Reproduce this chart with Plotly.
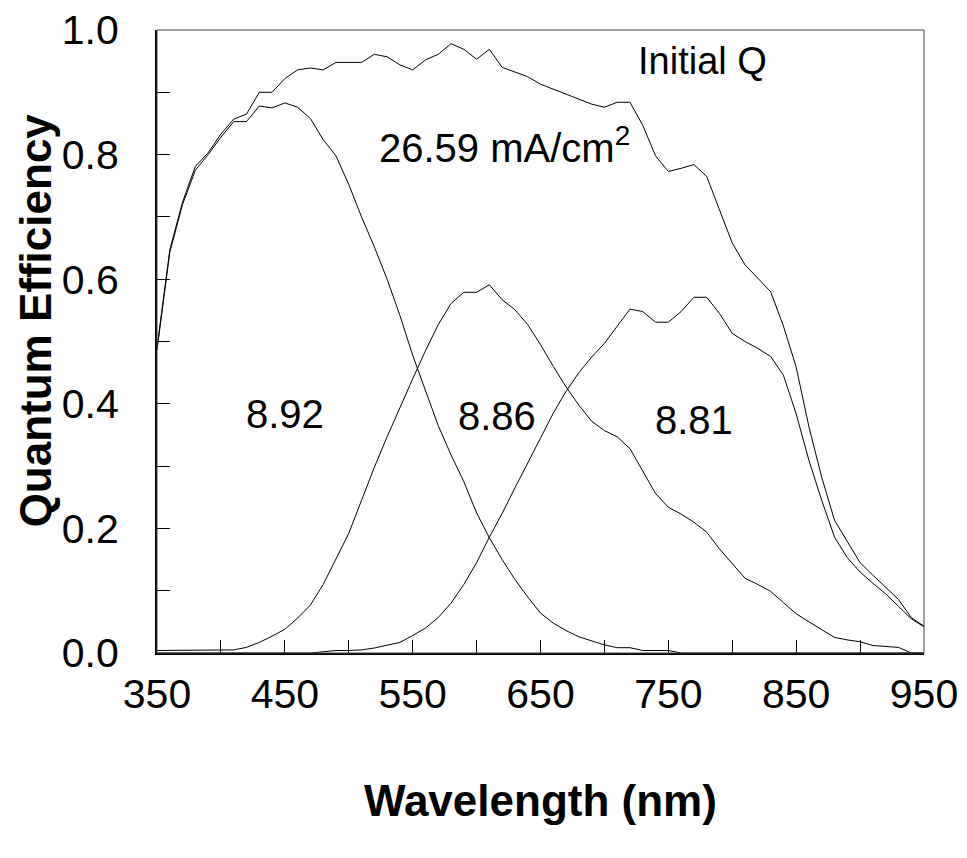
import plotly.graph_objects as go

# Wavelength grid (nm), 10 nm steps
wavelength = list(range(350, 960, 10))

# Total quantum efficiency (sum of the three subcells)
qe_total = [
    0.490, 0.647, 0.724, 0.781, 0.803, 0.833, 0.857, 0.865, 0.900, 0.900,
    0.922, 0.936, 0.939, 0.936, 0.948, 0.948, 0.948, 0.961, 0.957, 0.944,
    0.936, 0.952, 0.961, 0.978, 0.969, 0.953, 0.969, 0.940, 0.933, 0.925,
    0.913, 0.905, 0.897, 0.889, 0.881, 0.876, 0.884, 0.884, 0.847, 0.798,
    0.773, 0.778, 0.784, 0.765, 0.712, 0.658, 0.623, 0.602, 0.580, 0.525,
    0.459, 0.363, 0.282, 0.213, 0.178, 0.145, 0.125, 0.106, 0.086, 0.057,
    0.043,
]

# Top (short-wavelength) subcell
qe_top = [
    0.486, 0.643, 0.720, 0.775, 0.800, 0.828, 0.853, 0.853, 0.878, 0.875,
    0.883, 0.876, 0.858, 0.824, 0.798, 0.752, 0.700, 0.652, 0.600, 0.542,
    0.478, 0.420, 0.365, 0.318, 0.275, 0.225, 0.185, 0.150, 0.118, 0.090,
    0.064, 0.048, 0.036, 0.026, 0.019, 0.013, 0.0085, 0.0085, 0.004, 0.004,
    0.004, 0.0, 0.0, 0.0, 0.0, 0.0, 0.0, 0.0, 0.0, 0.0,
    0.0, 0.0, 0.0, 0.0, 0.0, 0.0, 0.0, 0.0, 0.0, 0.0,
    0.0,
]

# Middle subcell
qe_middle = [
    0.004, 0.004, 0.004, 0.004, 0.004, 0.004, 0.005, 0.009, 0.017, 0.027,
    0.038, 0.056, 0.077, 0.110, 0.150, 0.192, 0.245, 0.298, 0.347, 0.395,
    0.440, 0.485, 0.527, 0.561, 0.579, 0.579, 0.591, 0.567, 0.551, 0.527,
    0.495, 0.460, 0.427, 0.398, 0.372, 0.357, 0.347, 0.328, 0.293, 0.256,
    0.234, 0.223, 0.210, 0.194, 0.167, 0.143, 0.120, 0.110, 0.099, 0.081,
    0.063, 0.050, 0.037, 0.025, 0.021, 0.018, 0.012, 0.011, 0.009, 0.0,
    0.0,
]

# Bottom (long-wavelength) subcell
qe_bottom = [
    0.0, 0.0, 0.0, 0.0, 0.0, 0.0, 0.0, 0.0, 0.0, 0.0,
    0.0, 0.0, 0.0, 0.002, 0.004, 0.004, 0.005, 0.008, 0.012, 0.017,
    0.028, 0.040, 0.057, 0.080, 0.110, 0.145, 0.186, 0.224, 0.265, 0.304,
    0.345, 0.385, 0.420, 0.450, 0.475, 0.497, 0.525, 0.552, 0.548, 0.531,
    0.531, 0.548, 0.571, 0.571, 0.545, 0.513, 0.500, 0.489, 0.476, 0.446,
    0.384, 0.309, 0.245, 0.186, 0.153, 0.130, 0.112, 0.095, 0.075, 0.055,
    0.042,
]

# Integrated current densities (mA/cm^2) and where they are written
total_jsc = "26.59"
subcell_jsc = ["8.92", "8.86", "8.81"]
subcell_label_x = [450, 616, 770]
subcell_label_y = [0.384, 0.381, 0.374]

FONT = "Liberation Sans, Arial, sans-serif"

fig = go.Figure()
for series in (qe_total, qe_top, qe_middle, qe_bottom):
    fig.add_trace(go.Scatter(
        x=wavelength, y=series, mode="lines",
        line=dict(color="black", width=1),
        showlegend=False, hoverinfo="skip",
    ))

tick_common = dict(
    ticks="inside", ticklen=13, tickwidth=1, tickcolor="black",
    showline=True, linewidth=2, linecolor="black",
    showgrid=False, zeroline=False, automargin=False,
    tickfont=dict(family=FONT, size=41, color="black"),
)

fig.update_xaxes(
    range=[350, 950], tickmode="linear", tick0=350, dtick=100,
    minor=dict(tick0=350, dtick=50, ticks="inside", ticklen=13,
               tickwidth=1, tickcolor="black"),
    ticklabelstandoff=4,
    **tick_common,
)
fig.update_yaxes(
    range=[0, 1.0], tickmode="linear", tick0=0, dtick=0.2, tickformat=".1f",
    minor=dict(tick0=0, dtick=0.1, ticks="inside", ticklen=13,
               tickwidth=1, tickcolor="black"),
    ticklabelstandoff=28,
    **tick_common,
)

# Thin frame on the top and right edges
fig.add_shape(type="rect", xref="paper", yref="paper", x0=0, y0=0, x1=1, y1=1,
              line=dict(color="#444444", width=1), layer="above")

annotations = [
    dict(x=725, y=0.951, text="Initial Q", xanchor="left", yanchor="middle",
         font=dict(family=FONT, size=38, color="black")),
    dict(x=522, y=0.815, text=total_jsc + " mA/cm<sup>2</sup>",
         xanchor="left", yanchor="middle",
         font=dict(family=FONT, size=40, color="black")),
]
for lbl, lx, ly in zip(subcell_jsc, subcell_label_x, subcell_label_y):
    annotations.append(dict(x=lx, y=ly, text=lbl, xanchor="center",
                            yanchor="middle",
                            font=dict(family=FONT, size=40, color="black")))
annotations.append(dict(
    xref="paper", yref="paper", x=-0.159, y=0.534,
    text="<b>Quantum Efficiency</b>", textangle=-90,
    xanchor="center", yanchor="middle",
    font=dict(family=FONT, size=44, color="black")))
annotations.append(dict(
    xref="paper", yref="paper", x=0.5, y=-0.237,
    text="<b>Wavelength (nm)</b>",
    xanchor="center", yanchor="middle",
    font=dict(family=FONT, size=44, color="black")))
for a in annotations:
    a.setdefault("xref", "x")
    a.setdefault("yref", "y")
    a["showarrow"] = False
fig.update_layout(annotations=annotations)

fig.update_layout(
    width=967, height=858,
    margin=dict(l=157, r=43, t=30, b=205, pad=0),
    paper_bgcolor="white", plot_bgcolor="white",
    font=dict(family=FONT, color="black"),
)

fig.write_html("out.html")
